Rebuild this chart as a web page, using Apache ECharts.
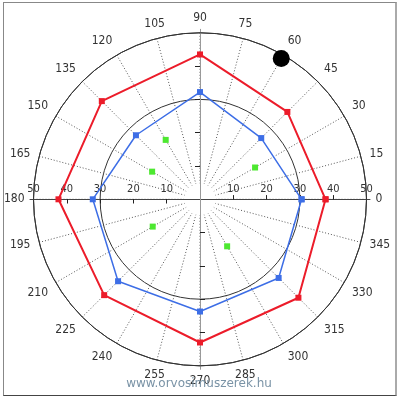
<!DOCTYPE html>
<html><head><meta charset="utf-8">
<script src="https://cdn.jsdelivr.net/npm/echarts@6/dist/echarts.min.js"></script>
<style>
html,body{margin:0;padding:0;background:#fff;}
#frame{position:absolute;left:3px;top:2px;width:391px;height:392px;border-top:1px solid #888;border-left:1px solid #888;border-right:2px solid #aaa;border-bottom:1px solid #444;box-sizing:content-box;}
#chart{position:absolute;left:0;top:0;width:398px;height:400px;}
</style></head><body>
<div id="frame"></div><div id="chart"></div>
<script>
// ---- data ----
const angleTickValues = [0,15,30,45,60,75,90,105,120,135,150,165,180,195,210,225,240,255,270,285,300,315,330,345];
const radialTickLabels = [10,20,30,40,50];
const radialTicks = [10,20,30,40];
const pointAngles = [0,45,90,135,180,225,270,315];
const redValues  = [37.7,37.1,43.5,41.7,42.5,40.7,43.0,41.8];
const blueValues = [30.5,26.0,32.2,27.2,32.2,34.8,33.7,33.4];
const greenAngles = [30,120,150,210,300];
const greenValues = [19.1,20.6,16.6,16.4,16.3];
const markerAngles = [60];
const markerValues = [48.8];
const watermark = 'www.orvosimuszerek.hu';

// ---- layout ----
const CX = 200, CY = 199.3, R = 166.5, RMAX = 50;
const AXR = 170; // axis line length
const FONT = "'Liberation Sans Narrow','DejaVu Sans Condensed','Liberation Sans',Arial,sans-serif";

const polar = [], angleAxis = [], radiusAxis = [];
function addPolar(p, a, r) {
  const i = polar.length;
  polar.push(Object.assign({center:[CX,CY], radius:R}, p));
  angleAxis.push(Object.assign({polarIndex:i, type:'value', min:0, max:360, interval:15, startAngle:0, clockwise:false,
    axisLine:{show:false}, axisTick:{show:false}, axisLabel:{show:false}, splitLine:{show:false}}, a));
  radiusAxis.push(Object.assign({polarIndex:i, type:'value', min:0, max:RMAX,
    axisLine:{show:false}, axisTick:{show:false}, axisLabel:{show:false}, splitLine:{show:false}}, r));
  return i;
}
// 0: data polar
addPolar({}, {}, {});
// 1: dotted spokes
addPolar({radius:[16,R]}, {splitLine:{show:true, lineStyle:{color:'#555', width:1, type:[1,2]}}}, {max:1});
// 2: reference circles + angle labels
addPolar({}, {
  axisLine:{show:true, lineStyle:{color:'#333', width:1}},
  axisLabel:{show:true, margin:9, color:'#333', fontSize:12, fontFamily:FONT,
    formatter: v => angleTickValues.indexOf(v) >= 0 ? String(v) : ''}
}, {interval:30, splitLine:{show:true, lineStyle:{color:'#333', width:1}}});
// axis crosses
function cross(start, color, labels, tickLen, labelMargin, vAlign) {
  [false, true].forEach((inside, k) => {
    addPolar({radius:AXR}, {startAngle:start}, {
      max: RMAX*AXR/R,
      axisLine:{show:k===0, lineStyle:{color:color, width:1}},
      axisTick:{show:true, inside:inside, length:tickLen, customValues:radialTicks, lineStyle:{color:'#222', width:1}},
      axisLabel: (labels && k===0) ? {show:true, customValues:radialTickLabels, margin:labelMargin, color:'#333', fontSize:11, fontFamily:FONT, verticalAlign:vAlign, align:'center'} : {show:false}
    });
  });
}
cross(0, '#444', true, 4, 5, 'bottom');
cross(180, '#444', true, 4, -5, 'bottom');
cross(90, '#999', false, 5);
cross(270, '#999', false, 5);

function pts(vals, angs, close) {
  const d = vals.map((v,i) => [v, angs[i]]);
  if (close) d.push([vals[0], angs[0]]);
  return d;
}

const chart = echarts.init(document.getElementById('chart'), null, {renderer:'canvas'});
chart.setOption({
  animation:false,
  backgroundColor:'transparent',
  polar, angleAxis, radiusAxis,
  graphic:[{type:'text', left:'center', top:378, z:100,
    style:{text:watermark, fill:'#7a93a6', font:"12px 'DejaVu Sans', sans-serif"}}],
  series:[
    {type:'line', coordinateSystem:'polar', polarIndex:0, data:pts(blueValues, pointAngles, true),
      symbol:'rect', symbolSize:6, showAllSymbol:true, lineStyle:{color:'#3d6ee6', width:1.5}, itemStyle:{color:'#3d6ee6'}, z:5},
    {type:'line', coordinateSystem:'polar', polarIndex:0, data:pts(redValues, pointAngles, true),
      symbol:'rect', symbolSize:6, showAllSymbol:true, lineStyle:{color:'#ec1c2a', width:2}, itemStyle:{color:'#ec1c2a'}, z:6},
    {type:'scatter', coordinateSystem:'polar', polarIndex:0, data:pts(greenValues, greenAngles, false),
      symbol:'rect', symbolSize:6, itemStyle:{color:'#4de830', opacity:1}, z:6},
    {type:'scatter', coordinateSystem:'polar', polarIndex:0, data:pts(markerValues, markerAngles, false),
      symbol:'circle', symbolSize:17, itemStyle:{color:'#000', opacity:1}, z:7}
  ]
});
</script>
</body></html>
